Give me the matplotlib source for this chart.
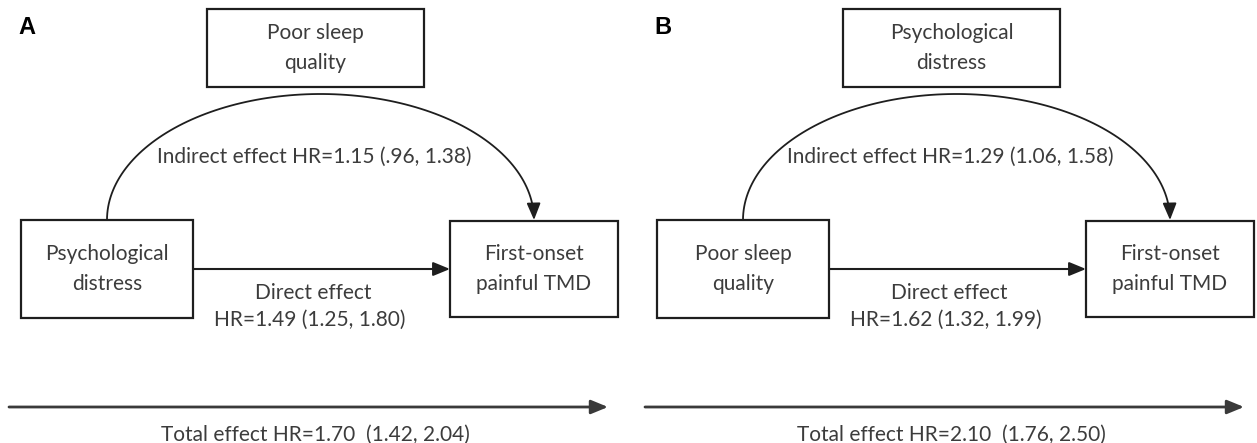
import numpy as np
import matplotlib.pyplot as plt
from matplotlib.patches import Rectangle, FancyArrowPatch
from matplotlib.path import Path

plt.rcParams['font.family'] = ['Lato', 'DejaVu Sans']

# mediation models: A = distress -> sleep -> TMD, B = sleep -> distress -> TMD
panel_tags = ['A', 'B']
mediators = ['Poor sleep\nquality', 'Psychological\ndistress']
exposures = ['Psychological\ndistress', 'Poor sleep\nquality']
outcome = 'First-onset\npainful TMD'
indirect_hr = [1.15, 1.29]
indirect_ci = [(0.96, 1.38), (1.06, 1.58)]
direct_hr = [1.49, 1.62]
direct_ci = [(1.25, 1.80), (1.32, 1.99)]
total_hr = [1.70, 2.10]
total_ci = [(1.42, 2.04), (1.76, 2.50)]


def fmt(v):
    s = f'{v:.2f}'
    return s[1:] if s.startswith('0') else s


TXT = '#3c3c3c'
EDGE = '#1e1e1e'
FS = 15

fig = plt.figure(figsize=(12.57, 4.43), dpi=100)
ax = fig.add_axes([0, 0, 1, 1])
ax.set_xlim(0, 1257)
ax.set_ylim(443, 0)
ax.axis('off')


def box(x, y, w, h, label):
    ax.add_patch(Rectangle((x, y), w, h, fill=False, ec=EDGE, lw=1.6))
    lines = label.split('\n')
    cy = y + h / 2
    for i, line in enumerate(lines):
        ax.text(x + w / 2, cy + (i - (len(lines) - 1) / 2) * 30, line,
                ha='center', va='center', fontsize=FS, color=TXT)


def arrow(p0, p1, color=EDGE, lw=1.5, path=None):
    kw = dict(arrowstyle='-|>,head_length=0.85,head_width=0.35',
              mutation_scale=12, color=color, lw=lw,
              shrinkA=0, shrinkB=0)
    if path is not None:
        a = FancyArrowPatch(path=path, **kw)
    else:
        a = FancyArrowPatch(p0, p1, **kw)
    ax.add_patch(a)


for k in range(2):
    dx = 636 * k
    ax.text(27 + dx, 27, panel_tags[k], fontsize=17, fontweight='bold',
            family='Liberation Sans', ha='center', va='center', color='black')

    box(207 + dx, 9, 217, 78, mediators[k])
    box(21 + dx, 220, 172, 98, exposures[k])
    box(450 + dx, 221, 168, 96, outcome)

    # indirect path: half-ellipse over the mediator box
    t = np.linspace(np.pi, 0, 120)
    cx, a, b = 320.5 + dx, 213.5, 126
    verts = np.column_stack([cx + a * np.cos(t), 220 - b * np.sin(t)])
    arrow(None, None, lw=1.3, path=Path(verts))
    lo, hi = indirect_ci[k]
    ax.text(314 + dx, 157, f'Indirect effect HR={indirect_hr[k]:.2f} ({fmt(lo)}, {fmt(hi)})',
            ha='center', va='center', fontsize=FS, color=TXT)

    # direct path
    arrow((193 + dx, 269), (450 + dx, 269), lw=1.5)
    lo, hi = direct_ci[k]
    ax.text(313 + dx, 293, 'Direct effect', ha='center', va='center',
            fontsize=FS, color=TXT)
    ax.text(310 + dx, 320, f'HR={direct_hr[k]:.2f} ({fmt(lo)}, {fmt(hi)})',
            ha='center', va='center', fontsize=FS, color=TXT)

    # total effect
    arrow((9 + dx, 407), (608 + dx, 407), color='#3a3a3a', lw=2)
    lo, hi = total_ci[k]
    ax.text(315 + dx, 435, f'Total effect HR={total_hr[k]:.2f}  ({fmt(lo)}, {fmt(hi)})',
            ha='center', va='center', fontsize=FS, color=TXT)

fig.savefig('out.png', dpi=100)
